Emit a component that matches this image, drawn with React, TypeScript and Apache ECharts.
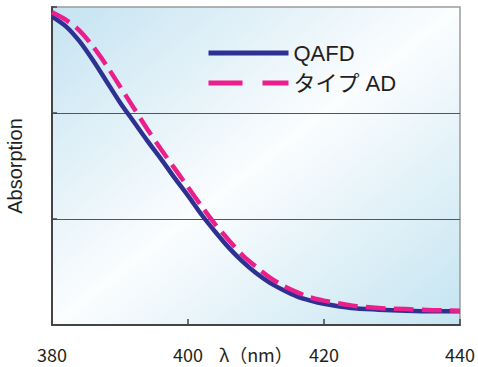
import React, { useEffect, useRef } from "react";
import * as echarts from "echarts";

const wavelengths = [380, 382, 384, 386, 388, 390, 392, 394, 396, 398, 400, 402, 404, 406, 408, 410, 412, 414, 416, 418, 420, 424, 428, 432, 436, 440];
const qafd = [2.91, 2.82, 2.68, 2.5, 2.3, 2.1, 1.92, 1.74, 1.57, 1.39, 1.22, 1.04, 0.88, 0.73, 0.6, 0.49, 0.4, 0.33, 0.27, 0.23, 0.2, 0.16, 0.145, 0.135, 0.13, 0.13];
const typeAD = [2.95, 2.88, 2.78, 2.63, 2.45, 2.25, 2.05, 1.85, 1.66, 1.48, 1.3, 1.12, 0.95, 0.8, 0.66, 0.55, 0.45, 0.37, 0.31, 0.26, 0.23, 0.185, 0.16, 0.15, 0.14, 0.135];
const seriesNames = ["QAFD", "タイプ AD"];
const xTicks = [380, 400, 420, 440];

const FONT = "'Noto Sans CJK JP', 'Noto Sans', sans-serif";
const LATIN = "'Liberation Sans', 'Noto Sans CJK JP', sans-serif";

export default function App() {
  const ref = useRef<HTMLDivElement>(null);
  useEffect(() => {
    if (!ref.current) return;
    const chart = echarts.init(ref.current, undefined, { renderer: "svg" });
    chart.setOption({
      animation: false,
      backgroundColor: "#ffffff",
      textStyle: { fontFamily: FONT },
      grid: {
        left: 52,
        right: 18,
        top: 7,
        bottom: 42,
        containLabel: false,
        outerBoundsMode: "none",
        show: true,
        borderColor: "#9a9a9a",
        borderWidth: 1.5,
        backgroundColor: new echarts.graphic.LinearGradient(0, 0, 1, 1, [
          { offset: 0, color: "#c4e3f1" },
          { offset: 0.5, color: "#fbfdfe" },
          { offset: 1, color: "#c4e4f1" },
        ]),
      },
      legend: {
        left: 206,
        top: 41,
        padding: 0,
        orient: "vertical",
        align: "left",
        itemWidth: 80,
        itemHeight: 14,
        itemGap: 6,
        itemStyle: { opacity: 0 },
        textStyle: { fontSize: 22, color: "#231f20", fontFamily: LATIN, lineHeight: 24 },
        data: [
          { name: seriesNames[0], lineStyle: { width: 5 } },
          { name: seriesNames[1], lineStyle: { width: 5, type: [34, 20] } },
        ],
      },
      xAxis: {
        type: "value",
        min: 380,
        max: 440,
        interval: 20,
        name: "λ（nm）",
        nameLocation: "middle",
        nameGap: 20,
        nameMoveOverlap: false,
        nameTextStyle: { fontSize: 18, color: "#231f20", fontFamily: FONT, verticalAlign: "top" },
        axisLine: { show: true, lineStyle: { color: "#444", width: 2 } },
        axisTick: { show: true, inside: true, length: 6, lineStyle: { color: "#444", width: 1.5 } },
        axisLabel: {
          fontSize: 18,
          color: "#231f20",
          margin: 20,
          fontFamily: FONT,
          formatter: (v: number) => (xTicks.includes(v) ? String(v) : ""),
        },
        splitLine: { show: false },
      },
      yAxis: {
        type: "value",
        min: 0,
        max: 3,
        interval: 1,
        name: "Absorption",
        nameLocation: "middle",
        nameGap: 27,
        nameTextStyle: { fontSize: 20, color: "#231f20", fontFamily: LATIN },
        axisLine: { show: true, lineStyle: { color: "#444", width: 2 } },
        axisTick: { show: true, inside: true, length: 5, lineStyle: { color: "#444", width: 1.5 } },
        axisLabel: { show: false },
        splitLine: {
          show: true,
          showMinLine: false,
          showMaxLine: false,
          lineStyle: { color: "#555", width: 1.2 },
        },
      },
      series: [
        {
          name: seriesNames[0],
          type: "line",
          smooth: 0.3,
          symbol: "none",
          data: wavelengths.map((w, i) => [w, qafd[i]]),
          lineStyle: { color: "#2e3192", width: 4.5 },
          itemStyle: { color: "#2e3192" },
          z: 2,
        },
        {
          name: seriesNames[1],
          type: "line",
          smooth: 0.3,
          symbol: "none",
          data: wavelengths.map((w, i) => [w, typeAD[i]]),
          lineStyle: { color: "#ea1f8c", width: 4.5, type: [20, 8] },
          itemStyle: { color: "#ea1f8c" },
          z: 3,
        },
      ],
    });
    return () => chart.dispose();
  }, []);
  return <div ref={ref} style={{ width: 478, height: 367, position: "absolute", left: 0, top: 0 }} />;
}
